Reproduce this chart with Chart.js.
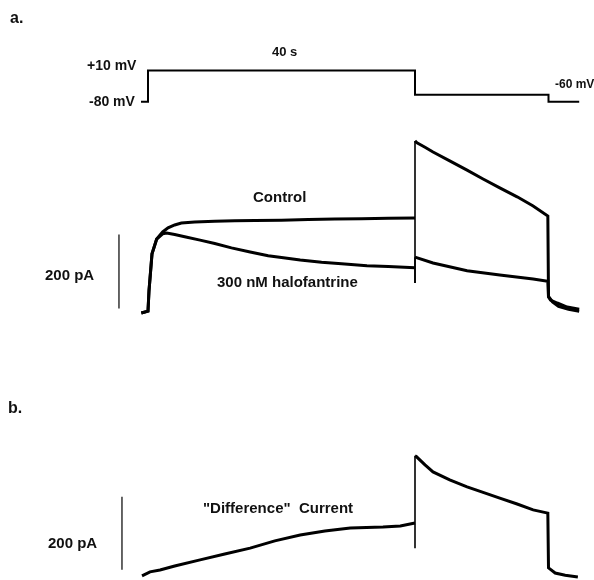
<!DOCTYPE html>
<html>
<head>
<meta charset="utf-8">
<script src="https://cdn.jsdelivr.net/npm/chart.js@4.4.1/dist/chart.umd.min.js"></script>
<style>
    html, body { margin: 0; padding: 0; background: #fff; }
    #wrap { width: 594px; height: 580px; position: relative; }
</style>
</head>
<body>
<div id="wrap"><canvas id="trace"></canvas></div>
<script>
// voltage protocol (s, mV)
const protoT = [-1.05, 0, 0, 40, 40, 60, 60, 64.6];
const protoMV = [-80, -80, 10, 10, -60, -60, -80, -80];

// panel a: control current (s, pA)
const ctrlT = [-1.0, 0, 0.15, 0.6, 1.3, 2.2, 3, 4, 5, 7, 10, 13, 16, 20, 24, 28, 32, 36, 40,
    40, 40, 40.3, 41.5, 42.7, 45.2, 47.8, 50.2, 52.7, 55.3, 57.7, 59.9, 60, 60.6, 61.5, 63, 64.6];
const ctrlI = [0, 5, 60, 160, 200, 219, 230, 238, 243, 246, 248, 249, 250, 251, 253, 254, 255, 256, 257,
    81, 465, 460, 448, 435, 411, 386, 362, 338, 314, 289, 262, 45, 30, 18, 10, 5];

// panel a: 300 nM halofantrine (s, pA)
const haloT = [-1.0, 0, 0.15, 0.6, 1.3, 2.2, 2.8, 4, 5.5, 7.8, 10, 12.5, 15.3, 18, 20, 22.8, 26, 29, 32.8, 36, 40,
    40, 40, 42.7, 47.8, 52.7, 57.7, 59.9, 60, 60.3, 61.3, 62.8, 64.6];
const haloI = [0, 5, 60, 160, 200, 214, 216, 212, 206, 197, 188, 176, 165, 155, 150, 143, 137, 133, 128, 126, 122,
    81, 151, 135, 114, 103, 92, 86, 43, 35, 27, 16, 10];

// panel b: "difference" current (s, pA)
const diffT = [-0.9, 0.3, 1.8, 4, 7.8, 11.5, 15.3, 19, 22.8, 26.5, 30.3, 35.2, 37.8, 40,
    40, 40, 40.2, 41.5, 42.7, 45.2, 47.8, 50.2, 52.7, 55.3, 57.7, 59.9, 60, 61, 62.5, 64.4];
const diffI = [3, 14, 19, 30, 47, 63, 79, 99, 115, 126, 134, 137, 140, 148,
    79, 332, 330, 307, 288, 266, 247, 232, 216, 200, 184, 175, 25, 11, 5, 0];

// 200 pA scale bars
const SCALE_PA = 200;
const barA = { t: -4.35, from: 12 };
const barB = { t: -3.9, from: 20 };

const PULSE_END = 40;
const W = 594, H = 580;

function pts(ts, vs) {
    return ts.map((t, i) => ({ x: t, y: vs[i] }));
}

// value range so that two values land on two pixel rows / columns
function rangeX(v1, p1, v2, p2) {
    const k = (v2 - v1) / (p2 - p1);
    const min = v1 - p1 * k;
    return { min: min, max: min + W * k };
}
function rangeY(v1, p1, v2, p2) {
    const k = (v1 - v2) / (p2 - p1);
    const max = v1 + p1 * k;
    return { min: max - H * k, max: max };
}

const xr = rangeX(0, 148, 40, 415);
const vr = rangeY(10, 70.5, -80, 101.7);
const ar = rangeY(0, 313, 200, 239);
const br = rangeY(0, 577, 200, 504);

function traceSet(data, axis) {
    return {
        data: data,
        yAxisID: axis,
        borderColor: '#000',
        borderWidth: 3,
        pointRadius: 0,
        tension: 0,
        segment: {
            borderWidth: c => (c.p0.parsed.x === PULSE_END && c.p1.parsed.x === PULSE_END) ? 1.6 : 3
        }
    };
}

const labels = [
    { text: 'a.', x: 10, y: 23, size: 16 },
    { text: 'b.', x: 8, y: 413, size: 16 },
    { text: '40 s', x: 272, y: 56, size: 13 },
    { text: '+10 mV', x: 87, y: 70, size: 14 },
    { text: '-80 mV', x: 89, y: 106, size: 14 },
    { text: '-60 mV', x: 555, y: 88, size: 12 },
    { text: 'Control', x: 253, y: 202, size: 15 },
    { text: '300 nM halofantrine', x: 217, y: 287, size: 15 },
    { text: '200 pA', x: 45, y: 280, size: 15 },
    { text: '"Difference"  Current', x: 203, y: 513, size: 15 },
    { text: '200 pA', x: 48, y: 548, size: 15 }
];

const textPlugin = {
    id: 'figText',
    afterDraw(chart) {
        const ctx = chart.ctx;
        ctx.save();
        ctx.fillStyle = '#111';
        ctx.textBaseline = 'alphabetic';
        labels.forEach(l => {
            ctx.font = 'bold ' + l.size + 'px "Liberation Sans", Arial, sans-serif';
            ctx.fillText(l.text, l.x, l.y);
        });
        ctx.restore();
    }
};

new Chart(document.getElementById('trace'), {
    type: 'line',
    data: {
        datasets: [
            {
                data: pts(protoT, protoMV),
                yAxisID: 'yV',
                borderColor: '#000',
                borderWidth: 2,
                pointRadius: 0,
                tension: 0
            },
            traceSet(pts(ctrlT, ctrlI), 'yA'),
            traceSet(pts(haloT, haloI), 'yA'),
            traceSet(pts(diffT, diffI), 'yB'),
            {
                data: [{ x: barA.t, y: barA.from }, { x: barA.t, y: barA.from + SCALE_PA }],
                yAxisID: 'yA',
                borderColor: '#333',
                borderWidth: 1.5,
                pointRadius: 0
            },
            {
                data: [{ x: barB.t, y: barB.from }, { x: barB.t, y: barB.from + SCALE_PA }],
                yAxisID: 'yB',
                borderColor: '#333',
                borderWidth: 1.5,
                pointRadius: 0
            }
        ]
    },
    options: {
        responsive: true,
        maintainAspectRatio: false,
        animation: false,
        layout: { padding: 0 },
        plugins: {
            legend: { display: false },
            tooltip: { enabled: false }
        },
        scales: {
            x: { type: 'linear', display: false, min: xr.min, max: xr.max },
            yV: { type: 'linear', display: false, min: vr.min, max: vr.max },
            yA: { type: 'linear', display: false, min: ar.min, max: ar.max },
            yB: { type: 'linear', display: false, min: br.min, max: br.max }
        }
    },
    plugins: [textPlugin]
});
</script>
</body>
</html>
